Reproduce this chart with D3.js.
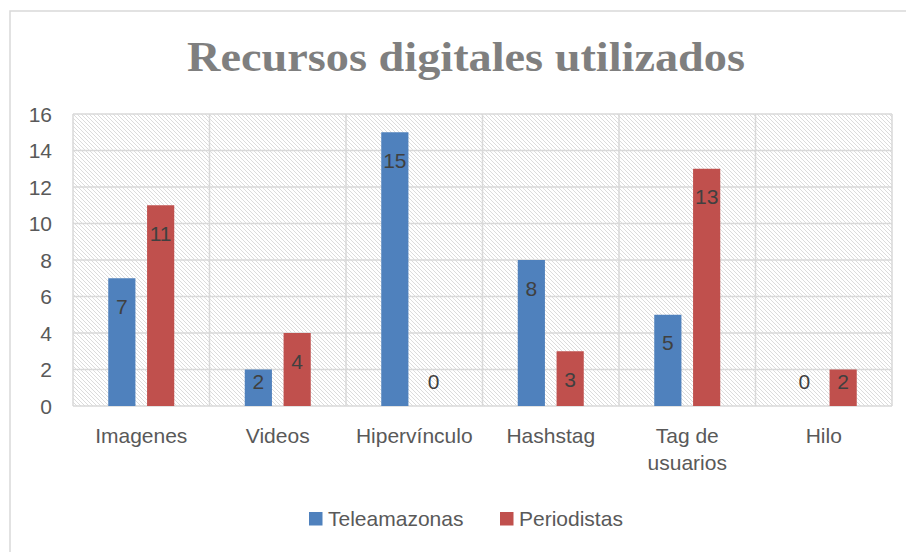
<!DOCTYPE html>
<html>
<head>
<meta charset="utf-8">
<script src="https://cdn.jsdelivr.net/npm/d3@7"></script>
<style>
  body { margin: 0; background: #fff; }
  text { font-family: "Liberation Sans", Arial, sans-serif; }
</style>
</head>
<body>
<svg id="chart" width="906" height="552"></svg>
<script>
var categories = ["Imagenes", "Videos", "Hipervínculo", "Hashstag", "Tag de usuarios", "Hilo"];
var seriesNames = ["Teleamazonas", "Periodistas"];
var teleamazonas = [7, 2, 15, 8, 5, 0];
var periodistas = [11, 4, 0, 3, 13, 2];
var yTicks = [0, 2, 4, 6, 8, 10, 12, 14, 16];
var colors = ["#4f81bd", "#c0504d"];

var values = [teleamazonas, periodistas];
var margin = {top: 114, right: 14, bottom: 146, left: 73};
var width = 906 - margin.left - margin.right;
var height = 552 - margin.top - margin.bottom;

var svg = d3.select("#chart");

// hatched background pattern
var defs = svg.append("defs");
var pat = defs.append("pattern")
  .attr("id", "hatch")
  .attr("patternUnits", "userSpaceOnUse")
  .attr("width", 4)
  .attr("height", 4);
pat.append("rect").attr("width", 4).attr("height", 4).attr("fill", "#fff");
pat.append("path")
  .attr("d", "M-1,-1 L5,5 M-1,3 L1,5 M3,-1 L5,1")
  .attr("stroke", "#dcdcdc")
  .attr("stroke-width", 1);

// chart border
svg.append("rect")
  .attr("x", 10).attr("y", 11)
  .attr("width", 920).attr("height", 600)
  .attr("fill", "none")
  .attr("stroke", "#d9d9d9")
  .attr("stroke-width", 1.5);

svg.append("text")
  .attr("x", 466)
  .attr("y", 71)
  .attr("text-anchor", "middle")
  .attr("textLength", 558)
  .attr("lengthAdjust", "spacingAndGlyphs")
  .style("font-family", "'Liberation Serif', 'DejaVu Serif', serif")
  .style("font-weight", "bold")
  .style("font-size", "42px")
  .attr("fill", "#7f7f7f")
  .text("Recursos digitales utilizados");

var g = svg.append("g")
  .attr("transform", "translate(" + margin.left + "," + margin.top + ")");

var x0 = d3.scaleBand().domain(categories).range([0, width]);
var x1 = d3.scaleBand().domain(seriesNames)
  .range([35.25, x0.bandwidth() - 35.25])
  .paddingInner(0.3);
var y = d3.scaleLinear().domain([0, 16]).range([height, 0]);

g.append("rect")
  .attr("width", width)
  .attr("height", height)
  .attr("fill", "url(#hatch)");

// gridlines
g.selectAll(".grid")
  .data(yTicks)
  .enter()
  .append("line")
  .attr("x1", 0).attr("x2", width)
  .attr("y1", function(d) { return y(d); })
  .attr("y2", function(d) { return y(d); })
  .attr("stroke", "#d9d9d9")
  .attr("stroke-width", 1.5);

// category separators
var seps = categories.map(function(c) { return x0(c); }).concat([width]);
g.selectAll(".sep")
  .data(seps)
  .enter()
  .append("line")
  .attr("x1", function(d) { return d; })
  .attr("x2", function(d) { return d; })
  .attr("y1", 0).attr("y2", height)
  .attr("stroke", "#d9d9d9")
  .attr("stroke-width", 1.5);

// y tick labels
g.selectAll(".ylab")
  .data(yTicks)
  .enter()
  .append("text")
  .attr("x", -21)
  .attr("y", function(d) { return y(d); })
  .attr("dy", "0.36em")
  .attr("text-anchor", "end")
  .style("font-size", "21px")
  .attr("fill", "#595959")
  .text(function(d) { return d; });

// bars
var groups = g.selectAll(".cat")
  .data(categories)
  .enter()
  .append("g")
  .attr("transform", function(c) { return "translate(" + x0(c) + ",0)"; });

groups.each(function(c, i) {
  var grp = d3.select(this);
  seriesNames.forEach(function(s, j) {
    var v = values[j][i];
    grp.append("rect")
      .attr("x", x1(s))
      .attr("y", y(v))
      .attr("width", x1.bandwidth())
      .attr("height", height - y(v))
      .attr("fill", colors[j]);
    grp.append("text")
      .attr("x", x1(s) + x1.bandwidth() / 2)
      .attr("y", Math.min(y(v) + 28, height - 25))
      .attr("dy", "0.36em")
      .attr("text-anchor", "middle")
      .style("font-size", "21px")
      .attr("fill", "#404040")
      .text(v);
  });
});

// category labels
groups.append("text")
  .attr("x", x0.bandwidth() / 2)
  .attr("y", height + 37)
  .attr("text-anchor", "middle")
  .style("font-size", "21px")
  .attr("fill", "#595959")
  .each(function(c) {
    var t = d3.select(this);
    var lines = c === "Tag de usuarios" ? ["Tag de", "usuarios"] : [c];
    lines.forEach(function(l, k) {
      t.append("tspan")
        .attr("x", x0.bandwidth() / 2)
        .attr("dy", k === 0 ? 0 : 27)
        .text(l);
    });
  });

// legend
var legendX = [309, 500];
var legend = svg.selectAll(".legend")
  .data(seriesNames)
  .enter()
  .append("g")
  .attr("transform", function(d, i) { return "translate(" + legendX[i] + ",512)"; });
legend.append("rect")
  .attr("width", 13.5).attr("height", 13.5)
  .attr("fill", function(d, i) { return colors[i]; });
legend.append("text")
  .attr("x", 19)
  .attr("y", 14)
  .style("font-size", "21px")
  .attr("fill", "#595959")
  .text(function(d) { return d; });
</script>
</body>
</html>
